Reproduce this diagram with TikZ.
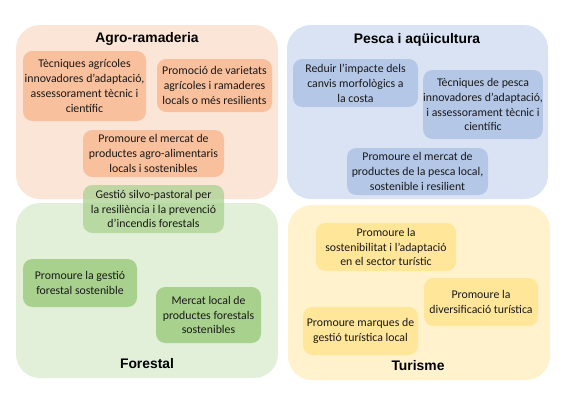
\documentclass[tikz,border=0pt]{standalone}
\usepackage{fontspec}
\setmainfont{Carlito}
\newfontfamily\titlefont{Liberation Sans}
\usepackage{xcolor}
\usetikzlibrary{positioning}
\definecolor{agroback}{HTML}{FBE5D6}
\definecolor{agrofill}{HTML}{F8C09C}
\definecolor{pescaback}{HTML}{DAE3F3}
\definecolor{pescafill}{HTML}{B4C7E7}
\definecolor{forback}{HTML}{E2F0D9}
\definecolor{forfill}{HTML}{A9D18E}
\definecolor{turback}{HTML}{FFF2CC}
\definecolor{turfill}{HTML}{FFE699}

\begin{document}
\begin{tikzpicture}[
  x=0.75pt, y=-0.75pt,
  area/.style={rounded corners=18pt, inner sep=0pt},
  item/.style={rounded corners=7pt, inner sep=0pt, align=center,
               font=\fontsize{8.85}{11.2}\selectfont, text=black!90},
  title/.style={font=\titlefont\bfseries\fontsize{10.4}{12}\selectfont},
]
\useasboundingbox[fill=white] (0,0) rectangle (575,401);

% sector areas
\node[area, fill=agroback, minimum width=196.5pt, minimum height=130.5pt] (agro) at (147,112) {};
\node[area, fill=pescaback, minimum width=195.75pt, minimum height=130.5pt] (pesca) at (417.5,112) {};
\node[area, fill=forback, minimum width=196.5pt, minimum height=131.25pt] (forestal) at (147,290.5) {};
\node[area, fill=turback, minimum width=196.5pt, minimum height=131.25pt] (turisme) at (419,292.5) {};

\node[title] (agroT) at (147,39) {Agro-ramaderia};
\node[title] (pescaT) at (417,40) {Pesca i aqüicultura};
\node[title] (forT) at (147,364) {Forestal};
\node[title] (turT) at (418,366) {Turisme};

% agro-ramaderia
\node[item, fill=agrofill, minimum width=92.25pt, minimum height=52.5pt] (agroTec) at (84.5,86)
  {Tècniques agrícoles\\innovadores d’adaptació,\\assessorament tècnic i\\científic};
\node[item, fill=agrofill, minimum width=86.25pt, minimum height=39.75pt] (agroVar) at (214.5,85.5)
  {Promoció de varietats\\agrícoles i ramaderes\\locals o més resilients};
\node[item, fill=agrofill, minimum width=105.75pt, minimum height=35.25pt] (agroMerc) at (153.5,153.5)
  {Promoure el mercat de\\productes agro-alimentaris\\locals i sostenibles};

% pesca
\node[item, fill=pescafill, minimum width=93.75pt, minimum height=36pt] (pescaImp) at (355.5,83)
  {Reduir l’impacte dels\\canvis morfològics a\\la costa};
\node[item, fill=pescafill, minimum width=88.5pt, minimum height=51.75pt] (pescaTec) at (483,104.5)
  {Tècniques de pesca\\innovadores d’adaptació,\\i assessorament tècnic i\\científic};
\node[item, fill=pescafill, minimum width=105.75pt, minimum height=35.25pt] (pescaMerc) at (417.5,171.5)
  {Promoure el mercat de\\productes de la pesca local,\\sostenible i resilient};

% forestal
\node[item, fill=forfill, minimum width=85.5pt, minimum height=36pt] (forGest) at (80,283)
  {Promoure la gestió\\forestal sostenible};
\node[item, fill=forfill, minimum width=78.75pt, minimum height=42pt] (forMerc) at (208.5,315)
  {Mercat local de\\productes forestals\\sostenibles};
\node[item, fill=forfill, fill opacity=0.72, text opacity=1, minimum width=105.75pt, minimum height=36pt] (silvo) at (153.5,209)
  {Gestió silvo-pastoral per\\la resiliència i la prevenció\\d’incendis forestals};

% turisme
\node[item, fill=turfill, minimum width=105pt, minimum height=36pt] (turSost) at (386,247)
  {Promoure la\\sostenibilitat i l’adaptació\\en el sector turístic};
\node[item, fill=turfill, minimum width=85.5pt, minimum height=36pt] (turDiv) at (481,302)
  {Promoure la\\diversificació turística};
\node[item, fill=turfill, minimum width=86.25pt, minimum height=36pt] (turMarq) at (360.5,331)
  {Promoure marques de\\gestió turística local};

\end{tikzpicture}
\end{document}
